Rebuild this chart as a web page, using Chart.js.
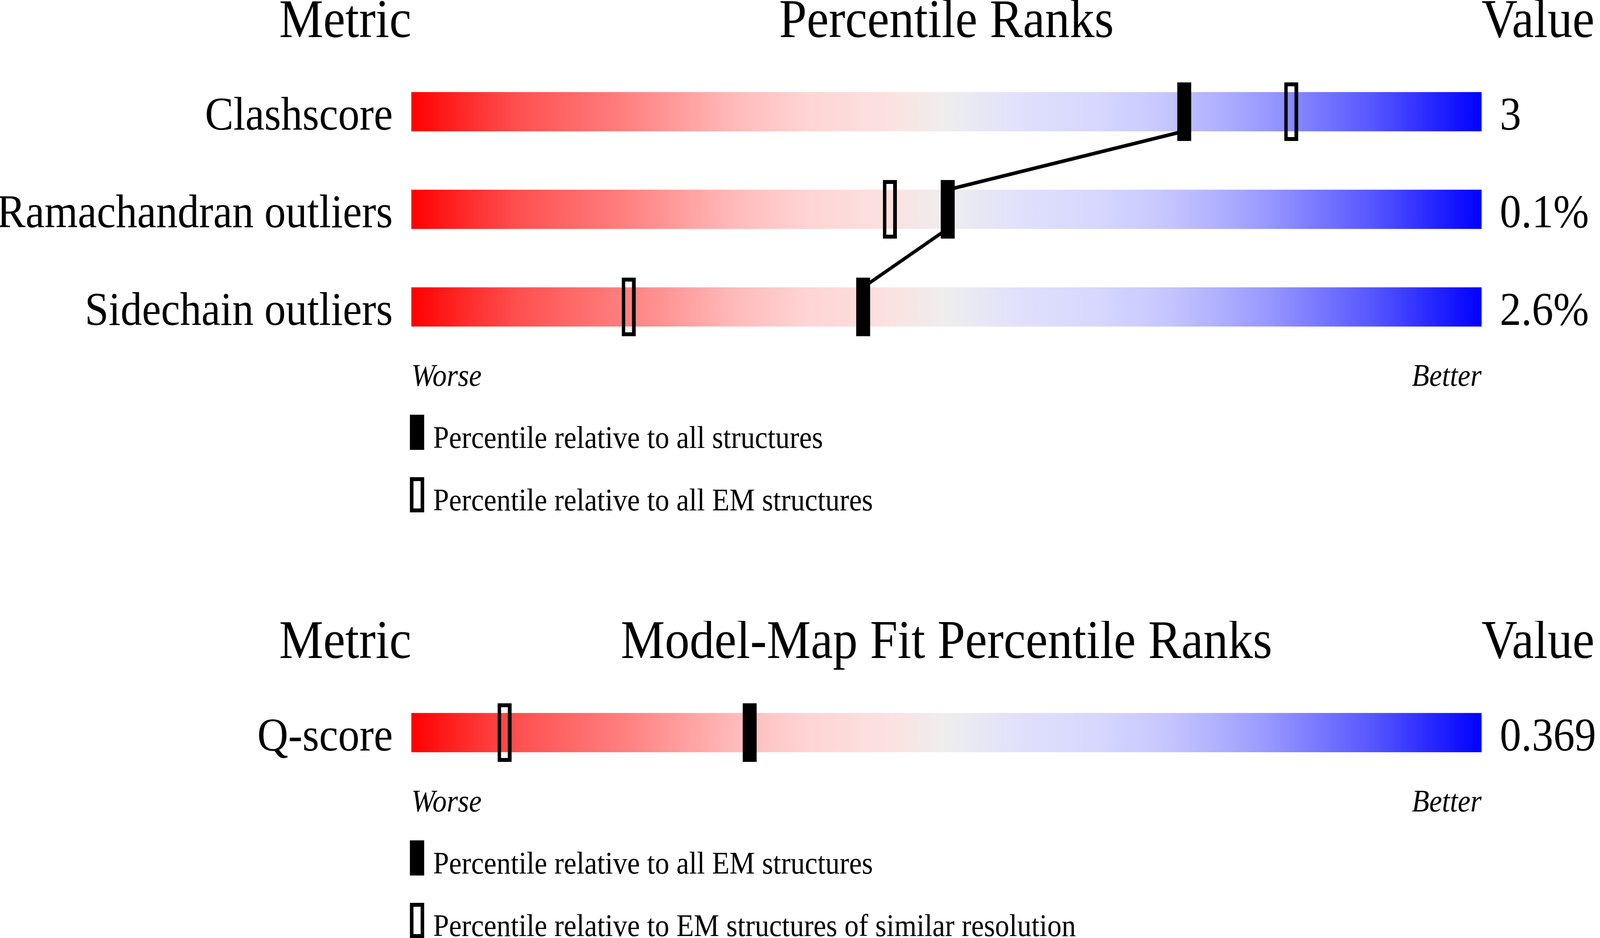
<!DOCTYPE html>
<html>
<head>
<meta charset="utf-8">
<title>Validation percentile ranks</title>
<script src="https://cdn.jsdelivr.net/npm/chart.js"></script>
<style>
  html, body { margin: 0; padding: 0; background: #ffffff; overflow: hidden; }
  #wrap { position: relative; overflow: hidden; background: #ffffff; }
  #wrap canvas { position: absolute; left: 0; }
</style>
</head>
<body>
<div id="wrap">
  <canvas id="geomChart" width="4485" height="1400"></canvas>
  <canvas id="fitChart" width="4485" height="812"></canvas>
</div>
<script>
// ---------------- data ----------------
const validationMetrics = ['Clashscore', 'Ramachandran outliers', 'Sidechain outliers'];
const validationValues = ['3', '0.1%', '2.6%'];
const pctAllStructures = [72.2, 50.1, 42.2];
const pctAllEMStructures = [82.2, 44.7, 20.3];

const fitMetrics = ['Q-score'];
const fitValues = ['0.369'];
const pctFitAllEM = [31.6];
const pctFitSimilarRes = [8.7];

const scaleEndValues = [0, 100];
const scaleEndLabels = ['Worse', 'Better'];

const geomTitles = ['Metric', 'Percentile Ranks', 'Value'];
const fitTitles = ['Metric', 'Model-Map Fit Percentile Ranks', 'Value'];
const geomLegend = ['Percentile relative to all structures', 'Percentile relative to all EM structures'];
const fitLegend = ['Percentile relative to all EM structures', 'Percentile relative to EM structures of similar resolution'];

// ---------------- page geometry (design pixels -> viewport) ----------------
const PAGE_W = 4485, PAGE_H = 2402;
const GEOM_H = 1400, FIT_TOP = 1590, FIT_H = 812;
const SX = (window.innerWidth > 0) ? window.innerWidth / PAGE_W : 1;
const SY = (window.innerHeight > 0) ? window.innerHeight / PAGE_H : 1;
(function placeCanvases() {
  const wrap = document.getElementById('wrap');
  wrap.style.width = (PAGE_W * SX) + 'px';
  wrap.style.height = (PAGE_H * SY) + 'px';
  const a = document.getElementById('geomChart');
  a.style.width = (PAGE_W * SX) + 'px';
  a.style.height = (GEOM_H * SY) + 'px';
  a.style.top = '0px';
  const b = document.getElementById('fitChart');
  b.style.width = (PAGE_W * SX) + 'px';
  b.style.height = (FIT_H * SY) + 'px';
  b.style.top = (FIT_TOP * SY) + 'px';
})();

// ---------------- styles ----------------
const FONT = "'Liberation Serif', 'Times New Roman', Times, serif";
const TITLE_SIZE = 139;
const LABEL_SIZE = 120;
const SMALL_SIZE = 80;
const LEFT_W = 1153;
const RIGHT_W = 332;
const BAR_FRACTION = 0.4;
const BAR_PX = 100;

const GRADIENT_STOPS = [
  [0.00, 'rgb(255,0,0)'],
  [0.05, 'rgb(255,42,42)'],
  [0.10, 'rgb(255,80,80)'],
  [0.20, 'rgb(255,128,128)'],
  [0.30, 'rgb(255,185,185)'],
  [0.37, 'rgb(255,212,212)'],
  [0.45, 'rgb(252,226,226)'],
  [0.50, 'rgb(238,238,238)'],
  [0.57, 'rgb(224,224,252)'],
  [0.64, 'rgb(215,215,255)'],
  [0.70, 'rgb(200,200,255)'],
  [0.75, 'rgb(178,178,255)'],
  [0.80, 'rgb(152,152,255)'],
  [0.90, 'rgb(85,85,255)'],
  [0.95, 'rgb(42,42,255)'],
  [1.00, 'rgb(0,0,255)']
];

function makeMarker(w, h, hollow) {
  const c = document.createElement('canvas');
  c.width = w; c.height = h;
  const g = c.getContext('2d');
  g.fillStyle = '#000';
  g.strokeStyle = '#000';
  if (hollow) {
    g.lineWidth = 10;
    g.strokeRect(5, 5, w - 10, h - 10);
  } else {
    g.fillRect(0, 0, w, h);
  }
  return c;
}
const markFilled = makeMarker(39, 150, false);
const markHollow = makeMarker(39, 150, true);
const legFilled = makeMarker(40, 90, false);
const legHollow = makeMarker(40, 90, true);

function trackGradient(chart) {
  const a = chart.chartArea;
  if (!a) return 'rgb(238,238,238)';
  const g = chart.ctx.createLinearGradient(a.left, 0, a.right, 0);
  GRADIENT_STOPS.forEach(([o, c]) => g.addColorStop(o, c));
  return g;
}

const panelDecor = {
  id: 'panelDecor',
  afterDraw(chart, args, opts) {
    const { ctx, chartArea } = chart;
    ctx.save();
    ctx.fillStyle = '#000';
    ctx.textBaseline = 'alphabetic';
    ctx.font = TITLE_SIZE + 'px ' + FONT;
    const yT = chartArea.top - 66;
    ctx.textAlign = 'right';
    ctx.fillText(opts.titles[0], chartArea.left, yT);
    ctx.textAlign = 'center';
    ctx.fillText(opts.titles[1], (chartArea.left + chartArea.right) / 2, yT);
    ctx.textAlign = 'left';
    ctx.fillText(opts.titles[2], chartArea.right, yT);

    ctx.font = SMALL_SIZE + 'px ' + FONT;
    opts.legend.forEach((txt, i) => {
      const base = chartArea.bottom + 236 + i * 160;
      const img = i === 0 ? legFilled : legHollow;
      ctx.drawImage(img, chartArea.left - 4, base + 5 - img.height);
      ctx.textAlign = 'left';
      ctx.fillText(txt, chartArea.left + 61, base);
    });
    ctx.restore();
  }
};

function buildChart(canvasId, metrics, values, pctMain, pctOther, titles, legend, connect, padBottom) {
  const half = BAR_FRACTION / 2;
  const datasets = [
    {
      type: 'bar',
      label: 'range',
      data: metrics.map(() => [scaleEndValues[0], scaleEndValues[1]]),
      backgroundColor: (c) => trackGradient(c.chart),
      borderWidth: 0,
      grouped: false,
      categoryPercentage: 1,
      barPercentage: 1,
      maxBarThickness: BAR_PX,
      xAxisID: 'x',
      yAxisID: 'y',
      order: 3
    },
    {
      type: 'scatter',
      label: legend[1],
      data: metrics.map((m, i) => ({ x: pctOther[i], y: m })),
      pointStyle: markHollow,
      pointRadius: 20,
      xAxisID: 'x',
      yAxisID: 'y',
      order: 1
    },
    {
      type: 'scatter',
      label: legend[0],
      data: metrics.map((m, i) => ({ x: pctMain[i], y: m })),
      pointStyle: markFilled,
      pointRadius: 20,
      xAxisID: 'x',
      yAxisID: 'y',
      order: 0
    }
  ];
  if (connect) {
    const pts = [];
    for (let i = 0; i < pctMain.length - 1; i++) {
      pts.push({ x: pctMain[i], y: i + half });
      pts.push({ x: pctMain[i + 1], y: i + 1 - half });
    }
    datasets.push({
      type: 'line',
      label: 'link',
      data: pts,
      borderColor: '#000',
      borderWidth: 9,
      borderJoinStyle: 'round',
      pointRadius: 0,
      fill: false,
      tension: 0,
      xAxisID: 'x',
      yAxisID: 'yLin',
      order: 2
    });
  }
  const noGrid = { display: false, drawTicks: false };
  return new Chart(document.getElementById(canvasId), {
    type: 'bar',
    data: { labels: metrics, datasets },
    plugins: [panelDecor],
    options: {
      indexAxis: 'y',
      responsive: false,
      maintainAspectRatio: false,
      devicePixelRatio: 1,
      animation: false,
      events: [],
      layout: { padding: { top: 161, bottom: padBottom, left: 0, right: 0 } },
      plugins: {
        legend: { display: false },
        tooltip: { enabled: false },
        title: { display: false },
        panelDecor: { titles, legend }
      },
      scales: {
        x: {
          type: 'linear',
          position: 'bottom',
          min: scaleEndValues[0],
          max: scaleEndValues[1],
          grid: noGrid,
          border: { display: false },
          afterBuildTicks: (s) => { s.ticks = scaleEndValues.map(v => ({ value: v })); },
          afterFit: (s) => { s.height = 100; },
          ticks: {
            align: 'inner',
            padding: 8,
            autoSkip: false,
            maxRotation: 0,
            color: '#000',
            font: { family: FONT, size: SMALL_SIZE, style: 'italic' },
            callback: (v) => scaleEndLabels[scaleEndValues.indexOf(v)]
          }
        },
        y: {
          type: 'category',
          position: 'left',
          labels: metrics,
          offset: true,
          grid: noGrid,
          border: { display: false },
          afterFit: (s) => { s.width = LEFT_W; },
          ticks: {
            crossAlign: 'near',
            padding: 52,
            labelOffset: 14,
            autoSkip: false,
            color: '#000',
            font: { family: FONT, size: LABEL_SIZE }
          }
        },
        yVal: {
          type: 'category',
          axis: 'y',
          position: 'right',
          labels: values,
          offset: true,
          grid: noGrid,
          border: { display: false },
          afterFit: (s) => { s.width = RIGHT_W; },
          ticks: {
            crossAlign: 'near',
            padding: 51,
            labelOffset: 14,
            autoSkip: false,
            color: '#000',
            font: { family: FONT, size: LABEL_SIZE }
          }
        },
        yLin: {
          type: 'linear',
          axis: 'y',
          display: false,
          offset: false,
          reverse: true,
          min: -0.5,
          max: metrics.length - 0.5
        }
      }
    }
  });
}

buildChart('geomChart', validationMetrics, validationValues, pctAllStructures, pctAllEMStructures,
  geomTitles, geomLegend, true, GEOM_H - 161 - 750 - 100);
buildChart('fitChart', fitMetrics, fitValues, pctFitAllEM, pctFitSimilarRes,
  fitTitles, fitLegend, false, FIT_H - 161 - 250 - 100);
</script>
</body>
</html>
